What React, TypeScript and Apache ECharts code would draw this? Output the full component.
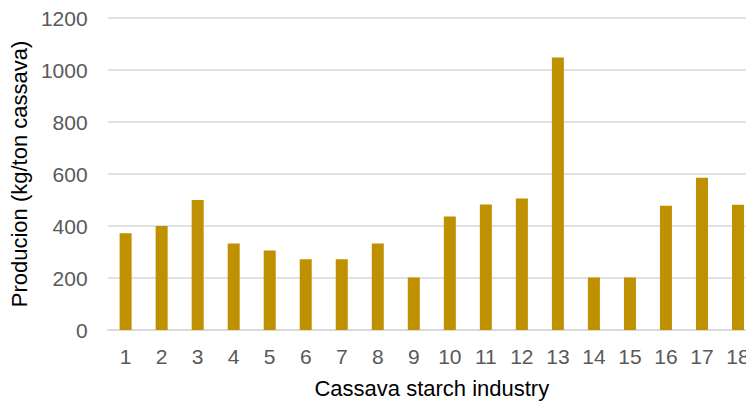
import React, { useEffect, useRef } from "react";
import * as echarts from "echarts";

const industries = ["1", "2", "3", "4", "5", "6", "7", "8", "9", "10", "11", "12", "13", "14", "15", "16", "17", "18"];
const production = [372, 400, 500, 333, 306, 272, 272, 333, 202, 437, 483, 506, 1048, 202, 202, 478, 586, 482];
const yTicks = { min: 0, max: 1200, interval: 200 };

const FONT = "'Liberation Sans', Arial, sans-serif";

export default function App() {
  const ref = useRef<HTMLDivElement>(null);

  useEffect(() => {
    if (!ref.current) return;
    const chart = echarts.init(ref.current, undefined, { renderer: "svg" });
    chart.setOption({
      animation: false,
      backgroundColor: "#ffffff",
      grid: { left: 107, right: 4, top: 18, bottom: 74, containLabel: false },
      xAxis: {
        type: "category",
        data: industries,
        name: "Cassava starch industry",
        nameLocation: "middle",
        nameGap: 47,
        nameTextStyle: { fontFamily: FONT, fontSize: 22, color: "#000000" },
        axisLine: { show: true, lineStyle: { color: "#d9d9d9", width: 1.5 } },
        axisTick: { show: false },
        axisLabel: { fontFamily: FONT, fontSize: 21, color: "#595959", margin: 16, interval: 0 },
      },
      yAxis: {
        type: "value",
        min: yTicks.min,
        max: yTicks.max,
        interval: yTicks.interval,
        name: "Producion (kg/ton cassava)",
        nameLocation: "middle",
        nameRotate: 90,
        nameGap: 66,
        nameTextStyle: { fontFamily: FONT, fontSize: 22, color: "#000000" },
        axisLine: { show: false },
        axisTick: { show: false },
        axisLabel: {
          fontFamily: FONT,
          fontSize: 21,
          color: "#595959",
          margin: 20,
          formatter: (v: number) => String(v),
        },
        splitLine: { lineStyle: { color: "#d9d9d9", width: 1.5 } },
      },
      series: [
        {
          type: "bar",
          data: production,
          barWidth: 12,
          itemStyle: { color: "#bf9000" },
        },
      ],
    });
    return () => chart.dispose();
  }, []);

  return (
    <div style={{ position: "absolute", left: 0, top: 0, width: 746, height: 404, overflow: "hidden", background: "#fff" }}>
      <div ref={ref} style={{ width: 760, height: 404 }} />
    </div>
  );
}
